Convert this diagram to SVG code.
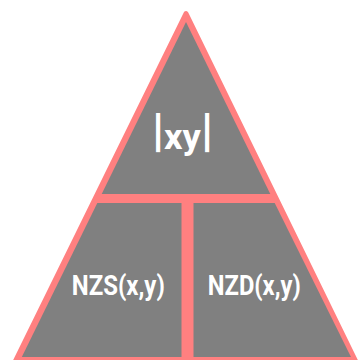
<svg xmlns="http://www.w3.org/2000/svg" width="359" height="360" viewBox="0 0 359 360">
  <style>
    .cell { fill: #808080; }
    .lbl { font-family: Roboto, "Liberation Sans", sans-serif; font-weight: bold; fill: #ffffff; text-anchor: middle; }
  </style>
  <rect width="359" height="360" fill="#ffffff"/>
  <g id="frame">
    <polygon points="186,13.5 14,364 357,364" fill="#ff8080" stroke="#ff8080" stroke-width="5" stroke-linejoin="round"/>
  </g>
  <g id="top">
    <polygon class="cell" points="186,22 101.7,194 270.3,194"/>
    <text class="lbl" x="182.5" y="149" font-size="35" textLength="61" lengthAdjust="spacingAndGlyphs"><tspan font-size="46" dy="-3">|</tspan><tspan dy="3">xy</tspan><tspan font-size="46" dy="-3">|</tspan></text>
  </g>
  <g id="nzs">
    <polygon class="cell" points="97.3,203 181.5,203 181.5,357 21.8,357"/>
    <text class="lbl" x="118.3" y="295" font-size="28" textLength="93" lengthAdjust="spacingAndGlyphs">NZS(x,y)</text>
  </g>
  <g id="nzd">
    <polygon class="cell" points="193.5,203 274.7,203 351,357 193.5,357"/>
    <text class="lbl" x="254.3" y="295" font-size="28" textLength="93" lengthAdjust="spacingAndGlyphs">NZD(x,y)</text>
  </g>
  <g id="connectors"/>
</svg>
